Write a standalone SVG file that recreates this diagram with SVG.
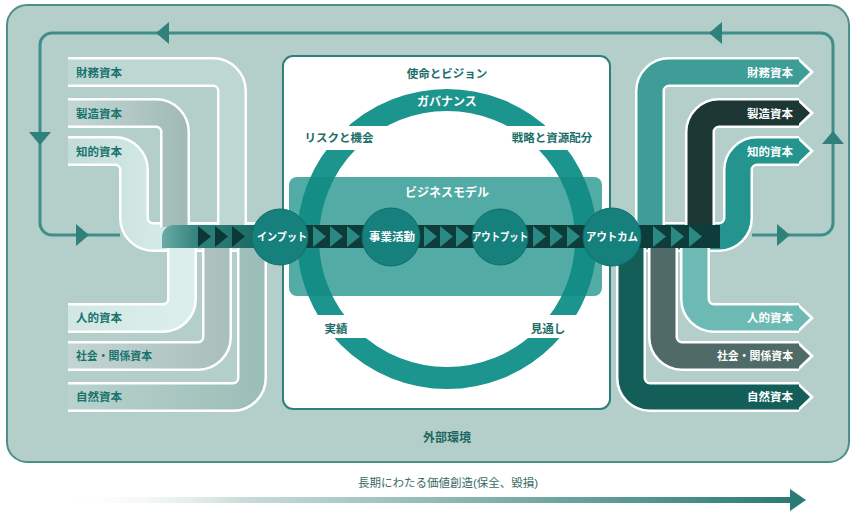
<svg xmlns="http://www.w3.org/2000/svg" width="857" height="514" viewBox="0 0 857 514">
<defs>
<style>
text{font-family:"Liberation Sans","Noto Sans CJK JP",sans-serif;font-weight:bold;dominant-baseline:central}
.lt{font-size:11.5px;fill:#17736d}
.rt{font-size:11.5px;fill:#ffffff;text-anchor:end}
.in{font-size:11.5px;fill:#1b6e69;text-anchor:middle}
.wt{font-size:12px;fill:#ffffff;text-anchor:middle}
.ct{font-size:11px;fill:#ffffff;text-anchor:middle}
.bw{fill:none;stroke:#ffffff;stroke-width:30}
.bf{fill:none;stroke-width:25}
.aw{fill:#ffffff}
.loop{fill:none;stroke:#3f8e89;stroke-width:3}
.la{fill:#2f817c}
.dk{fill:#0e3c3a}
.tri{fill:#2b8984}
.tdk{fill:#0b3735}
.node{fill:#16817c;stroke:#0f6f6a;stroke-width:1}
</style>
<linearGradient id="gSeizoL" gradientUnits="userSpaceOnUse" x1="68" y1="0" x2="190" y2="0"><stop offset="0" stop-color="#c3d8d4"/><stop offset="1" stop-color="#a0b9b4"/></linearGradient>
<linearGradient id="gChitekiL" gradientUnits="userSpaceOnUse" x1="68" y1="0" x2="160" y2="0"><stop offset="0" stop-color="#c4dcd8"/><stop offset="1" stop-color="#d3eae6"/></linearGradient>
<linearGradient id="gJintekiL" gradientUnits="userSpaceOnUse" x1="68" y1="0" x2="200" y2="0"><stop offset="0" stop-color="#d2e7e3"/><stop offset="1" stop-color="#dcefeb"/></linearGradient>
<linearGradient id="gShakaiL" gradientUnits="userSpaceOnUse" x1="68" y1="0" x2="235" y2="0"><stop offset="0" stop-color="#c3d5d2"/><stop offset="1" stop-color="#a8bebb"/></linearGradient>
<linearGradient id="gShizenL" gradientUnits="userSpaceOnUse" x1="68" y1="0" x2="268" y2="0"><stop offset="0" stop-color="#b9d2cd"/><stop offset="1" stop-color="#9bbdb7"/></linearGradient>
<linearGradient id="gStripL" gradientUnits="userSpaceOnUse" x1="162" y1="0" x2="256" y2="0"><stop offset="0" stop-color="#6aaba6"/><stop offset="0.4" stop-color="#2f807b"/><stop offset="1" stop-color="#1c6a66"/></linearGradient>
<linearGradient id="gLong" gradientUnits="userSpaceOnUse" x1="60" y1="0" x2="795" y2="0"><stop offset="0" stop-color="#ffffff" stop-opacity="0"/><stop offset="0.25" stop-color="#c9dcd9"/><stop offset="1" stop-color="#2a7a75"/></linearGradient>
<mask id="ringMask" maskUnits="userSpaceOnUse" x="0" y="0" width="857" height="514">
<rect x="0" y="0" width="857" height="514" fill="#ffffff"/>
<rect x="285" y="126" width="118" height="24" fill="#000000"/>
<rect x="492" y="126" width="116" height="24" fill="#000000"/>
<rect x="285" y="315" width="118" height="23" fill="#000000"/>
<rect x="492" y="315" width="116" height="23" fill="#000000"/>
</mask>
</defs>

<g id="external-environment">
<rect x="7" y="5" width="842" height="457" rx="20" fill="#b4cfca" stroke="#4d8f89" stroke-width="2"/>
<text x="447" y="438" class="in" style="fill:#1d6763;font-size:12px">外部環境</text>
</g>

<g id="connectors">
<path class="loop" d="M120 235 H52 A12 12 0 0 1 40 223 V45 A12 12 0 0 1 52 33 H821 A12 12 0 0 1 833 45 V223 A12 12 0 0 1 821 235 H752"/>
<polygon class="la" points="156,33 169,22 169,44"/>
<polygon class="la" points="709,33 722,22 722,44"/>
<polygon class="la" points="29,132 51,132 40,145"/>
<polygon class="la" points="76,224 89,235 76,246"/>
<polygon class="la" points="822,144 844,144 833,131"/>
<polygon class="la" points="777,224 790,235 777,246"/>
<rect x="60" y="497" width="732" height="6" fill="url(#gLong)"/>
<polygon points="790,489 806,500 790,511" fill="#2a7a75"/>
<text x="448" y="483" style="font-size:11.5px;font-weight:normal;fill:#3a6a66;text-anchor:middle">長期にわたる価値創造(保全、毀損)</text>
</g>

<g id="organization">
<rect x="283" y="56" width="327" height="353" rx="10" fill="#ffffff" stroke="#2e7f7a" stroke-width="2"/>
<text x="447" y="74" class="in">使命とビジョン</text>
</g>

<g id="governance-ring">
<circle cx="447" cy="239" r="139" fill="none" stroke="#1d958f" stroke-width="22" mask="url(#ringMask)"/>
<text x="447" y="102" class="wt">ガバナンス</text>
<text x="339" y="138" class="in">リスクと機会</text>
<text x="552" y="138" class="in">戦略と資源配分</text>
<text x="336" y="329" class="in">実績</text>
<text x="548" y="329" class="in">見通し</text>
</g>

<g id="business-model">
<rect x="289" y="177" width="313" height="119" rx="8" fill="#0f8a82" fill-opacity="0.72"/>
<text x="447" y="193" class="wt">ビジネスモデル</text>
</g>

<g id="input-capitals">
<g id="in-chiteki"><path class="bw" d="M68 151 H115 A19 19 0 0 1 134 170 V218 A19 19 0 0 0 153 237 H256"/><path class="bf" stroke="url(#gChitekiL)" d="M68 151 H115 A19 19 0 0 1 134 170 V218 A19 19 0 0 0 153 237 H256"/><text x="76" y="152" class="lt">知的資本</text></g>
<g id="in-zaimu"><path class="bw" d="M68 72 H213 A19 19 0 0 1 232 91 V227"/><path class="bf" stroke="#bfd7d2" d="M68 72 H213 A19 19 0 0 1 232 91 V227"/><text x="76" y="73" class="lt">財務資本</text></g>
<g id="in-seizo"><path class="bw" d="M68 113 H156 A19 19 0 0 1 175 132 V227"/><path class="bf" stroke="url(#gSeizoL)" d="M68 113 H156 A19 19 0 0 1 175 132 V227"/><text x="76" y="114" class="lt">製造資本</text></g>
<g id="in-jinteki"><path class="bw" d="M68 318 H163 A19 19 0 0 0 182 299 V246"/><path class="bf" stroke="url(#gJintekiL)" d="M68 318 H163 A19 19 0 0 0 182 299 V246"/><text x="76" y="318" class="lt">人的資本</text></g>
<g id="in-shakai"><path class="bw" d="M68 356 H198 A19 19 0 0 0 217 337 V246"/><path class="bf" stroke="url(#gShakaiL)" d="M68 356 H198 A19 19 0 0 0 217 337 V246"/><text x="76" y="356" class="lt" textLength="76" lengthAdjust="spacingAndGlyphs">社会・関係資本</text></g>
<g id="in-shizen"><path class="bw" d="M68 397 H233 A19 19 0 0 0 252 378 V246"/><path class="bf" stroke="url(#gShizenL)" d="M68 397 H233 A19 19 0 0 0 252 378 V246"/><text x="76" y="397" class="lt">自然資本</text></g>
</g>

<g id="output-capitals">
<g id="out-chiteki"><path class="bw" d="M630 237 H719 A19 19 0 0 0 738 218 V170 A19 19 0 0 1 757 151 H799"/><polygon class="aw" points="798,136 814,151 798,166"/><path class="bf" stroke="#23958e" d="M630 237 H719 A19 19 0 0 0 738 218 V170 A19 19 0 0 1 757 151 H799"/><polygon fill="#23958e" points="797,138.5 810,151 797,163.5"/><text x="793" y="152" class="rt">知的資本</text></g>
<g id="out-zaimu"><path class="bw" d="M650 227 V91 A19 19 0 0 1 669 72 H799"/><polygon class="aw" points="798,57 814,72 798,87"/><path class="bf" stroke="#3e9d97" d="M650 227 V91 A19 19 0 0 1 669 72 H799"/><polygon fill="#3e9d97" points="797,59.5 810,72 797,84.5"/><text x="793" y="73" class="rt">財務資本</text></g>
<g id="out-seizo"><path class="bw" d="M700 227 V132 A19 19 0 0 1 719 113 H799"/><polygon class="aw" points="798,98 814,113 798,128"/><path class="bf" stroke="#1d3834" d="M700 227 V132 A19 19 0 0 1 719 113 H799"/><polygon fill="#1d3834" points="797,100.5 810,113 797,125.5"/><text x="793" y="114" class="rt">製造資本</text></g>
<g id="out-jinteki"><path class="bw" d="M695 246 V299 A19 19 0 0 0 714 318 H799"/><polygon class="aw" points="798,303 814,318 798,333"/><path class="bf" stroke="#6dbab4" d="M695 246 V299 A19 19 0 0 0 714 318 H799"/><polygon fill="#6dbab4" points="797,305.5 810,318 797,330.5"/><text x="793" y="318" class="rt">人的資本</text></g>
<g id="out-shakai"><path class="bw" d="M663 246 V337 A19 19 0 0 0 682 356 H799"/><polygon class="aw" points="798,341 814,356 798,371"/><path class="bf" stroke="#506b67" d="M663 246 V337 A19 19 0 0 0 682 356 H799"/><polygon fill="#506b67" points="797,343.5 810,356 797,368.5"/><text x="793" y="356" class="rt" textLength="76" lengthAdjust="spacingAndGlyphs">社会・関係資本</text></g>
<g id="out-shizen"><path class="bw" d="M631 246 V378 A19 19 0 0 0 650 397 H799"/><polygon class="aw" points="798,382 814,397 798,412"/><path class="bf" stroke="#145e59" d="M631 246 V378 A19 19 0 0 0 650 397 H799"/><polygon fill="#145e59" points="797,384.5 810,397 797,409.5"/><text x="793" y="397" class="rt">自然資本</text></g>
</g>

<g id="value-flow">
<path d="M162 248 V237 A12 12 0 0 1 174 225 H258 V248 Z" fill="url(#gStripL)"/>
<rect class="dk" x="256" y="225" width="374" height="23"/>
<rect class="dk" x="628" y="225" width="92" height="23"/>
<polygon class="tdk" points="198,226 211,236.5 198,247"/>
<polygon class="tdk" points="215,226 228,236.5 215,247"/>
<polygon class="tdk" points="232,226 245,236.5 232,247"/>
<polygon class="tri" points="313,226 326,236.5 313,247"/>
<polygon class="tri" points="330,226 343,236.5 330,247"/>
<polygon class="tri" points="347,226 360,236.5 347,247"/>
<polygon class="tri" points="424,226 437,236.5 424,247"/>
<polygon class="tri" points="440,226 453,236.5 440,247"/>
<polygon class="tri" points="456,226 469,236.5 456,247"/>
<polygon class="tri" points="533,226 546,236.5 533,247"/>
<polygon class="tri" points="550,226 563,236.5 550,247"/>
<polygon class="tri" points="567,226 580,236.5 567,247"/>
<polygon class="tri" points="653,226 666,236.5 653,247"/>
<polygon class="tri" points="671,226 684,236.5 671,247"/>
<polygon class="tri" points="689,226 702,236.5 689,247"/>
</g>

<g id="input"><circle class="node" cx="280" cy="237" r="28"/><text x="282" y="237" class="ct" textLength="50" lengthAdjust="spacingAndGlyphs">インプット</text></g>
<g id="business-activities"><circle class="node" cx="391" cy="237" r="29"/><text x="392" y="237" class="ct" style="font-size:11.5px">事業活動</text></g>
<g id="output"><circle class="node" cx="500" cy="237" r="28"/><text x="500" y="237" class="ct" textLength="56" lengthAdjust="spacingAndGlyphs">アウトプット</text></g>
<g id="outcome"><circle class="node" cx="612" cy="237" r="29"/><text x="612" y="237" class="ct" textLength="52" lengthAdjust="spacingAndGlyphs">アウトカム</text></g>
</svg>
